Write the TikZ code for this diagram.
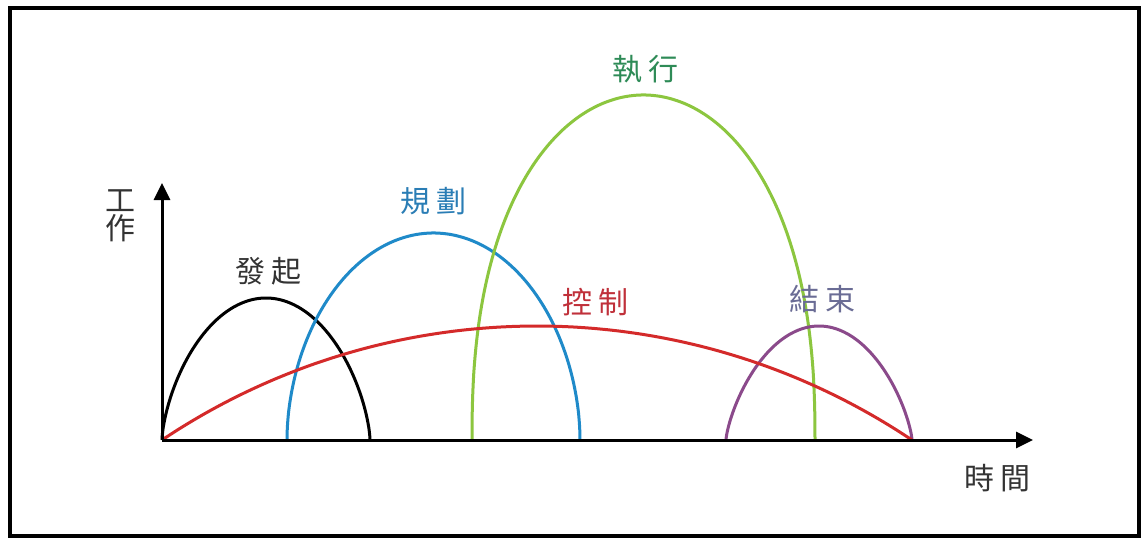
\documentclass[tikz,border=0pt]{standalone}
\usepackage{fontspec}
\newfontfamily\cjk{Noto Sans CJK TC}
\usetikzlibrary{arrows.meta}
\definecolor{txtgray}{HTML}{333333}
\definecolor{bluec}{HTML}{1F8AC9}
\definecolor{bluet}{HTML}{2A7DB5}
\definecolor{redc}{HTML}{D42A2A}
\definecolor{redt}{HTML}{C0303A}
\definecolor{greenc}{HTML}{8CC63F}
\definecolor{greent}{HTML}{2E8B57}
\definecolor{purc}{HTML}{8B4A8B}
\definecolor{purt}{HTML}{6A6C95}
\tikzset{
  lbl/.style={font=\cjk\fontsize{30}{36}\selectfont, inner sep=0pt},
  axisline/.style={line width=3pt, draw=black, -{Triangle[length=17pt,width=16pt]}},
  curve/.style={line width=3pt, line join=round}
}
\newcommand{\hump}[5]{% color, left x, right x, height, exponent
  \pgfmathsetmacro{\cx}{(#2+#3)/2}\pgfmathsetmacro{\ax}{(#3-#2)/2}
  \draw[curve,#1] (#2,440) -- plot[domain=0.5:179.5, samples=120, smooth]
    ({\cx-\ax*cos(\x)}, {440-#4*(sin(\x))^#5}) -- (#3,440);}
\begin{document}
\begin{tikzpicture}[x=1pt,y=-1pt]
\useasboundingbox (0,0) rectangle (1144,538);
\fill[white] (0,0) rectangle (1144,538);
\draw[line width=4pt] (10.3,8) rectangle (1138.7,536.3);
% curves
\hump{black}{162}{370}{142}{1.3}
\hump{bluec}{287}{580}{207}{1.05}
\hump{greenc}{472}{815}{345}{0.85}
\hump{purc}{726}{912}{114}{1.45}
\draw[curve,redc] plot[domain=123.8:56.2, samples=120, smooth]
  ({537+673.8*cos(\x)}, {999.8-673.8*sin(\x)});
% axes
\coordinate (O) at (162,440);
\coordinate (Ytop) at (162,183);
\coordinate (Xend) at (1033,440);
\draw[axisline] (O) -- (Ytop);
\draw[axisline] (O) -- (Xend);
% labels
\node[lbl, text=txtgray] (gong) at (120,201) {工};
\node[lbl, text=txtgray] (zuo) at (120,228) {作};
\node[lbl, text=txtgray] (time) at (997,478) {時\hspace{6pt}間};
\node[lbl, text=txtgray] (faqi) at (268,271) {發\hspace{6pt}起};
\node[lbl, text=bluet] (guihua) at (433,201) {規\hspace{6pt}劃};
\node[lbl, text=greent] (zhixing) at (645,69) {執\hspace{6pt}行};
\node[lbl, text=redt] (kongzhi) at (595,302) {控\hspace{6pt}制};
\node[lbl, text=purt] (jieshu) at (822,299) {結\hspace{6pt}束};
\end{tikzpicture}
\end{document}
